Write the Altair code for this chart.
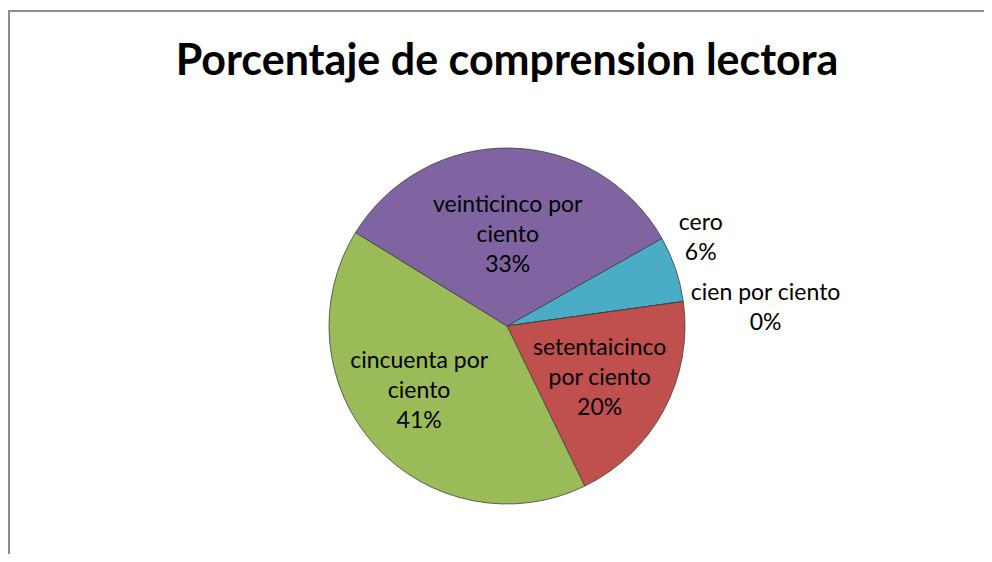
import math
import altair as alt
import pandas as pd

categories = ["cero", "cien por ciento", "setentaicinco por ciento",
              "cincuenta por ciento", "veinticinco por ciento"]
percents = [6, 0, 20, 41, 33]
labels = ["cero\n6%", "cien por ciento\n0%", "setentaicinco\npor ciento\n20%",
          "cincuenta por\nciento\n41%", "veinticinco por\nciento\n33%"]
colors = ["#4BACC6", "#F79646", "#C0504D", "#9BBB59", "#8064A2"]
order = [0, 1, 2, 3, 4]
title_text = "Porcentaje de comprension lectora"

df = pd.DataFrame({"cat": categories, "pct": percents, "label": labels, "idx": order})

start = math.radians(60.5)
theta = alt.Theta("pct:Q", stack=True,
                  scale=alt.Scale(domain=[0, 100], range=[start, start + 2 * math.pi]))

base = alt.Chart(df).encode(theta=theta, order=alt.Order("idx:Q"), detail="cat:N")

pie = base.mark_arc(outerRadius=178, stroke="#404040", strokeWidth=0.8).encode(
    color=alt.Color("cat:N", scale=alt.Scale(domain=categories, range=colors), legend=None)
)

txt = dict(font="Lato", fontSize=23, lineBreak="\n", lineHeight=30, color="#000000",
           align="center", baseline="middle")


def label_layer(i, radius, dx, dy):
    return base.transform_calculate(
        t=f"datum.idx == {i} ? datum.label : ''"
    ).mark_text(radius=radius, dx=dx, dy=dy, **txt).encode(text="t:N")


lbl_cero = label_layer(0, 213, -8, -35)
lbl_cien = label_layer(1, 255, 6, 2)
lbl_setenta = label_layer(2, 105, 0, -27)
lbl_cincuenta = label_layer(3, 109, -7, -38)
lbl_veinti = label_layer(4, 91, -1, -30)

frame_df = pd.DataFrame({"k": [0]})
frame_left = alt.Chart(frame_df).mark_rule(color="#8c8c8c", strokeWidth=2).encode(
    x=alt.value(-21), y=alt.value(-87), y2=alt.value(460))
frame_top = alt.Chart(frame_df).mark_rule(color="#8c8c8c", strokeWidth=2).encode(
    x=alt.value(-22), x2=alt.value(960), y=alt.value(-87))

title = alt.Chart(frame_df).mark_text(
    font="Lato", fontSize=43, fontWeight="bold", color="#000000",
    align="center", baseline="alphabetic"
).encode(x=alt.value(477), y=alt.value(-23), text=alt.value(title_text))

chart = alt.layer(frame_left, frame_top, title, pie, lbl_cero, lbl_cien,
                  lbl_setenta, lbl_cincuenta, lbl_veinti).properties(
    width=954, height=456,
    padding={"left": 22, "top": 90, "right": 0, "bottom": 0},
    autosize="none",
).configure_view(stroke=None)

chart.save("out.html", embed_options={"renderer": "svg", "actions": False})
